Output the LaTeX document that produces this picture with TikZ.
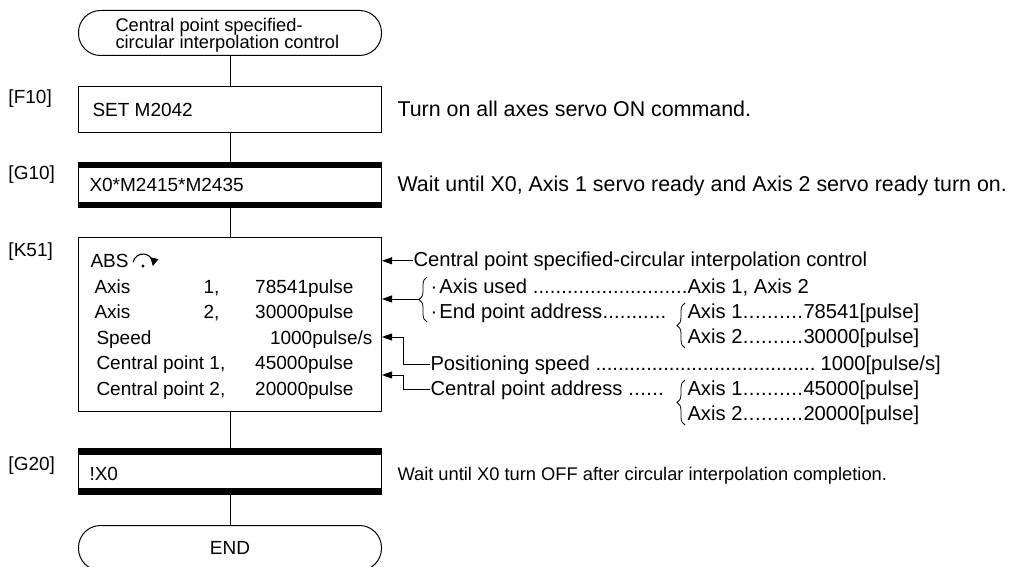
\documentclass[tikz,border=0pt]{standalone}
\usepackage{fontspec}
\setmainfont{Liberation Sans}
\usetikzlibrary{arrows.meta,decorations.pathreplacing}
\newcommand\ldr{\xleaders\hbox{.}\hfill}
\begin{document}
\begin{tikzpicture}[x=1pt,y=-1pt,line width=1pt,
  every node/.style={inner sep=0pt, font=\fontsize{19}{19}\selectfont},
  box/.style={draw, rectangle, minimum width=303pt, anchor=north west},
  term/.style={draw, rounded corners=22pt, minimum width=303pt, minimum height=45pt, anchor=north west},
  lbl/.style={anchor=base west},
  num/.style={anchor=base east},
  ann/.style={anchor=base west, font=\fontsize{20.2}{20.2}\selectfont},
  small/.style={anchor=base west, font=\fontsize{18.3}{18.3}\selectfont},
  wide/.style={anchor=base west, font=\fontsize{21.4}{21.4}\selectfont},
  arr/.style={-{Triangle[length=10pt,width=7pt]}, line width=0.9pt},
  brc/.style={decorate, decoration={brace, amplitude=8pt}, line width=0.8pt}]
\useasboundingbox (0,0) rectangle (1013,567);
% start terminal
\node[term] (start) at (78,10) {};
\node[small] (st1) at (115,32) {Central point specified-};
\node[small] (st2) at (115,49) {circular interpolation control};
% F10
\node[box, minimum height=46pt] (f10) at (78,86) {};
\node[lbl] (f10t) at (92,117) {SET M2042};
\node[lbl] (f10l) at (8,104) {[F10]};
\node[wide] (f10c) at (397,117) {Turn on all axes servo ON command.};
% G10
\node[box, minimum height=45pt] (g10) at (78,162) {};
\fill (g10.north west) rectangle ++(303,6);
\fill (g10.south west) rectangle ++(303,-6);
\node[lbl] (g10t) at (89,192) {X0*M2415*M2435};
\node[lbl] (g10l) at (8,180) {[G10]};
\node[wide] (g10c) at (397,192) {Wait until X0, Axis 1 servo ready and Axis 2 servo ready turn on.};
% K51
\node[box, minimum height=174pt] (k51) at (78,237) {};
\node[lbl] (k51l) at (8,257) {[K51]};
\node[lbl] (abs) at (90,267) {ABS};
\draw[line width=1.1pt, -{Triangle[length=8pt,width=8pt]}] (143,264) ++(190:10) arc[start angle=190, end angle=372, radius=10];
\fill (143,266) circle (1.6);
\node[lbl] (ax1) at (94,293) {Axis};
\node[num] (ax1n) at (220,293) {1,};
\node[num] (ax1v) at (354,293) {78541pulse};
\node[lbl] (ax2) at (94,318) {Axis};
\node[num] (ax2n) at (220,318) {2,};
\node[num] (ax2v) at (354,318) {30000pulse};
\node[lbl] (spd) at (96,344) {Speed};
\node[num] (spdv) at (373,344) {1000pulse/s};
\node[lbl] (cp1) at (96,369) {Central point 1,};
\node[num] (cp1v) at (354,369) {45000pulse};
\node[lbl] (cp2) at (96,395) {Central point 2,};
\node[num] (cp2v) at (354,395) {20000pulse};
% annotations
\node[ann] (a1) at (413,266) {Central point specified-circular interpolation control};
\draw[arr] (a1.west) -- (a1.west -| k51.east);
\draw[brc] (427,322) -- (427,277);
\coordinate (b1tip) at (419,299);
\draw[arr] (b1tip) -- (b1tip -| k51.east);
\node[ann] (au) at (430,293) {\makebox[9pt][l]{·}\makebox[248pt][l]{Axis used \ldr}Axis 1, Axis 2};
\node[ann] (ep) at (430,318) {\makebox[9pt][l]{·}\makebox[227pt][l]{End point address\ldr}};
\draw[brc] (685,348) -- (685,303);
\node[ann] (ep1) at (687,318) {\makebox[116pt][l]{Axis 1\ldr}78541[pulse]};
\node[ann] (ep2) at (687,343) {\makebox[116pt][l]{Axis 2\ldr}30000[pulse]};
\node[ann] (ps) at (430,370) {\makebox[385pt][l]{Positioning speed \ldr}\hspace{5pt}1000[pulse/s]};
\coordinate (b3) at (403,337);
\draw[arr] (ps.west) -| (b3) -- (b3 -| k51.east);
\node[ann] (cpa) at (430,395) {\makebox[234pt][l]{Central point address \ldr}};
\coordinate (b4) at (403,375);
\draw[arr] (cpa.west) -| (b4) -- (b4 -| k51.east);
\draw[brc] (685,425) -- (685,380);
\node[ann] (cpa1) at (687,395) {\makebox[116pt][l]{Axis 1\ldr}45000[pulse]};
\node[ann] (cpa2) at (687,420) {\makebox[116pt][l]{Axis 2\ldr}20000[pulse]};
% G20
\node[box, minimum height=46pt] (g20) at (78,448) {};
\fill (g20.north west) rectangle ++(303,7);
\fill (g20.south west) rectangle ++(303,-7);
\node[lbl] (g20t) at (89,480) {!X0};
\node[lbl] (g20l) at (8,470) {[G20]};
\node[small] (g20c) at (397,480) {Wait until X0 turn OFF after circular interpolation completion.};
% END
\node[term] (end) at (78,525) {};
\node[anchor=base] (endt) at (230,554) {END};
% connectors
\draw (start.south) -- (f10.north);
\draw (f10.south) -- (g10.north);
\draw (g10.south) -- (k51.north);
\draw (k51.south) -- (g20.north);
\draw (g20.south) -- (end.north);
\end{tikzpicture}
\end{document}
